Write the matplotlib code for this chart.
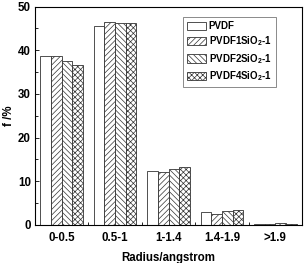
import numpy as np
import matplotlib
matplotlib.use("Agg")
import matplotlib.pyplot as plt
from matplotlib.ticker import MultipleLocator, FixedLocator

plt.rcParams['font.family'] = ['Liberation Sans', 'DejaVu Sans']
plt.rcParams['font.weight'] = 'bold'
plt.rcParams['mathtext.default'] = 'regular'
plt.rcParams['hatch.linewidth'] = 0.5

categories = ['0-0.5', '0.5-1', '1-1.4', '1.4-1.9', '>1.9']
series = ['PVDF', r'PVDF1SiO$_2$-1', r'PVDF2SiO$_2$-1', r'PVDF4SiO$_2$-1']
pvdf = [38.6, 45.6, 12.4, 3.05, 0.3]
pvdf1 = [38.7, 46.5, 12.1, 2.4, 0.15]
pvdf2 = [37.5, 46.2, 12.8, 3.2, 0.35]
pvdf4 = [36.6, 46.3, 13.3, 3.4, 0.3]
values = [pvdf, pvdf1, pvdf2, pvdf4]
hatches = ['', '//////', '\\\\\\\\\\\\', 'xxxxxx']

fig = plt.figure(figsize=(3.07, 2.63), dpi=100)
ax = fig.add_axes([0.114, 0.145, 0.87, 0.83])

x = np.arange(len(categories))
w = 0.2
for i, (vals, lab, h) in enumerate(zip(values, series, hatches)):
    ax.bar(x + (i - 1.5) * w, vals, w, facecolor='white', edgecolor='#333333',
           linewidth=0.6, hatch=h, label=lab)

ax.set_xlim(-0.5, 4.5)
ax.set_ylim(0, 50)
ax.set_xticks(x)
ax.set_xticklabels(categories)
ax.xaxis.set_minor_locator(FixedLocator(x[:-1] + 0.5))
ax.tick_params(axis='x', which='major', length=0, labelsize=8.3, pad=5)
ax.tick_params(axis='x', which='minor', direction='in', length=2.5, width=0.6)
ax.yaxis.set_major_locator(MultipleLocator(10))
ax.yaxis.set_minor_locator(MultipleLocator(5))
ax.tick_params(axis='y', which='major', direction='in', length=3, width=0.6, labelsize=8.3, pad=3)
ax.tick_params(axis='y', which='minor', direction='in', length=1.8, width=0.6)
for s in ax.spines.values():
    s.set_linewidth(0.8)

ax.set_xlabel('Radius/angstrom', fontsize=8.3, fontweight='bold', labelpad=6)
ax.set_ylabel('f /%', fontsize=8.3, fontweight='bold', labelpad=2)

leg = ax.legend(loc='upper right', bbox_to_anchor=(0.92, 0.975), fontsize=7.0,
                frameon=True, fancybox=False, edgecolor='#555555',
                handlelength=1.9, handleheight=0.9, labelspacing=0.35,
                borderpad=0.45, handletextpad=0.3)
leg.get_frame().set_linewidth(0.6)

fig.savefig('out.png', dpi=100)
